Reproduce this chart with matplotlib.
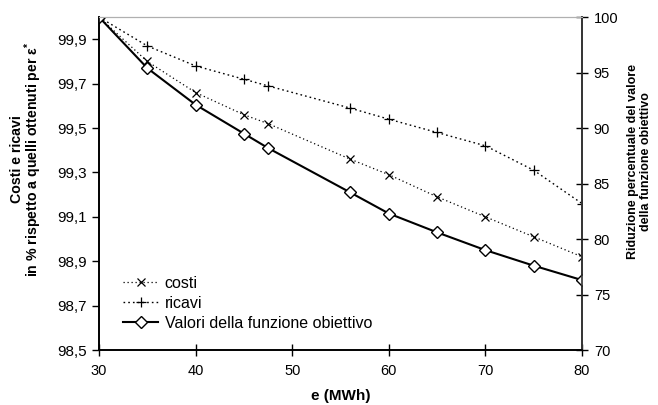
import matplotlib
matplotlib.use("Agg")
import matplotlib.pyplot as plt

plt.rcParams['font.family'] = ['Liberation Sans', 'DejaVu Sans']
plt.rcParams['mathtext.fontset'] = 'custom'
plt.rcParams['mathtext.rm'] = 'Liberation Sans:bold'
plt.rcParams['mathtext.it'] = 'Liberation Sans:bold'

# data
e_mwh = [30, 35, 40, 45, 47.5, 56, 60, 65, 70, 75, 80]
costi = [100.0, 99.80, 99.66, 99.56, 99.52, 99.36, 99.29, 99.19, 99.10, 99.01, 98.92]
ricavi = [100.0, 99.87, 99.78, 99.72, 99.69, 99.59, 99.54, 99.48, 99.42, 99.31, 99.16]
obiettivo = [100.0, 95.4, 92.1, 89.5, 88.2, 84.2, 82.3, 80.6, 79.0, 77.6, 76.3]

left_ticks = [98.5, 98.7, 98.9, 99.1, 99.3, 99.5, 99.7, 99.9]
left_labels = ['98,5', '98,7', '98,9', '99,1', '99,3', '99,5', '99,7', '99,9']
right_ticks = [70, 75, 80, 85, 90, 95, 100]
x_ticks = [30, 40, 50, 60, 70, 80]

fig = plt.figure(figsize=(6.58, 4.05), dpi=100)
ax = fig.add_axes([0.1505, 0.1358, 0.734, 0.822])
ax2 = ax.twinx()

l1, = ax.plot(e_mwh, costi, color='black', lw=0.9, linestyle=(0, (1, 2.2)),
              marker='x', ms=6, mew=0.9, label='costi')
l2, = ax.plot(e_mwh, ricavi, color='black', lw=1.0, linestyle=(0, (1.2, 2.2)),
              marker='+', ms=7, mew=0.9, label='ricavi')
l3, = ax2.plot(e_mwh, obiettivo, color='black', lw=1.5, marker='D', ms=6,
               mfc='white', mec='black', mew=1.0,
               label='Valori della funzione obiettivo')

ax.set_xlim(30, 80)
ax.set_ylim(98.5, 100)
ax2.set_ylim(70, 100)
ax.set_xticks(x_ticks)
ax.set_yticks(left_ticks)
ax.set_yticklabels(left_labels)
ax2.set_yticks(right_ticks)

for a in (ax, ax2):
    a.spines['top'].set_color('#b0b0b0')
    a.spines['left'].set_color('black')
    a.spines['bottom'].set_color('black')
    a.spines['right'].set_color('#333333')
    a.spines['left'].set_linewidth(1.2)
    a.spines['bottom'].set_linewidth(1.2)
    a.spines['right'].set_linewidth(1.2)

ax.tick_params(axis='y', direction='out', length=5, width=1, labelsize=11, pad=4)
ax.tick_params(axis='x', direction='inout', length=8, width=1, labelsize=10.5, pad=6)
ax2.tick_params(axis='y', direction='inout', length=9, width=1, labelsize=10.5, pad=4)

ax.set_xlabel('e (MWh)', fontsize=11, fontweight='bold', labelpad=8)
ax.set_ylabel('Costi e ricavi\nin % rispetto a quelli ottenuti per ε$^{*}$',
              fontsize=10.2, fontweight='bold', linespacing=0.95)
ax.yaxis.set_label_coords(-0.113, 0.574)
ax2.set_ylabel('Riduzione percentuale del valore\ndella funzione obiettivo',
               fontsize=9, fontweight='bold', linespacing=1.1)
ax2.yaxis.set_label_coords(1.093, 0.566)

ax.legend(handles=[l1, l2, l3], loc='lower left', bbox_to_anchor=(0.02, 0.015),
          frameon=False, fontsize=11.5, handlelength=2.2, handletextpad=0.4,
          labelspacing=0.3)

fig.savefig('out.png', dpi=100)
